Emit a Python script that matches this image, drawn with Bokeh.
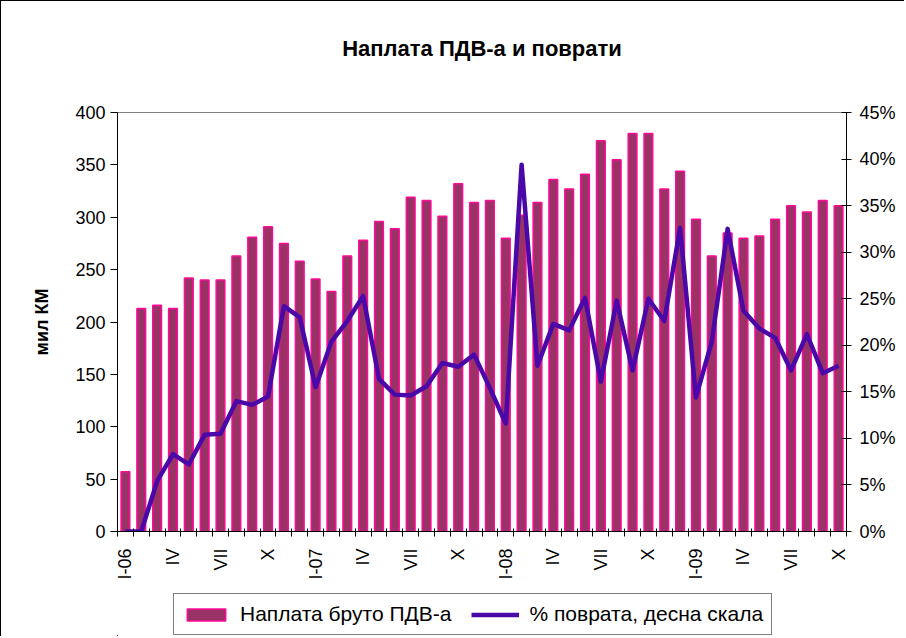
import math
from bokeh.plotting import figure
from bokeh.layouts import column
from bokeh.models import (Range1d, LinearAxis, FixedTicker, PrintfTickFormatter,
                          Legend, LegendItem, ColumnDataSource)
from bokeh.embed import file_html
from bokeh.resources import INLINE

# ---- data ----
months = list(range(46))  # I-06 .. X-09
vat_gross = [57, 213, 216, 213, 242, 240, 240, 263, 281, 291, 275, 258,
             241, 229, 263, 278, 296, 289, 319, 316, 301, 332, 314, 316,
             280, 302, 314, 336, 327, 341, 373, 355, 380, 380, 327, 344,
             298, 263, 285, 280, 282, 298, 311, 305, 316, 311]
refund_pct = [0, 0, 5.4, 8.3, 7.2, 10.4, 10.5, 14.0, 13.6, 14.5, 24.2, 23.0,
              15.5, 20.4, 22.6, 25.3, 16.4, 14.7, 14.6, 15.6, 18.1, 17.7, 19.0, 15.4,
              11.6, 39.4, 17.8, 22.3, 21.6, 25.1, 16.1, 24.8, 17.3, 25.0, 22.6, 32.6,
              14.4, 20.4, 32.5, 23.7, 21.8, 20.8, 17.3, 21.2, 17.0, 17.8]
tick_positions = [0, 3, 6, 9, 12, 15, 18, 21, 24, 27, 30, 33, 36, 39, 42, 45]
tick_labels = ["I-06", "IV", "VII", "X", "I-07", "IV", "VII", "X",
               "I-08", "IV", "VII", "X", "I-09", "IV", "VII", "X"]
left_ticks = [0, 50, 100, 150, 200, 250, 300, 350, 400]
right_ticks = [0, 5, 10, 15, 20, 25, 30, 35, 40, 45]

title_text = "Наплата ПДВ-а и поврати"
y_label_text = "мил КМ"
bar_name = "Наплата бруто ПДВ-а"
line_name = "% поврата, десна скала"

FONT = "Liberation Sans"
BAR_FILL = "#993366"
BAR_LINE = "#ff0a96"
LINE_COLOR = "#4a08a8"

src = ColumnDataSource(dict(x=months, top=vat_gross, pct=refund_pct))

p = figure(width=904, height=588, output_backend="svg", toolbar_location=None,
           x_range=Range1d(-0.5, 45.5), y_range=Range1d(0, 400),
           min_border_left=116, min_border_right=59, min_border_top=111,
           min_border_bottom=58)
p.styles = {"border-left": "1px solid black", "border-top": "1px solid black"}
p.xgrid.visible = False
p.ygrid.visible = False
p.outline_line_color = "#808080"
p.background_fill_color = "white"
p.border_fill_color = "white"

p.extra_y_ranges = {"pct": Range1d(0, 45)}

p.vbar(x="x", top="top", width=0.55, source=src,
       fill_color=BAR_FILL, line_color=BAR_LINE, line_width=1.5)
p.line(x="x", y="pct", source=src, y_range_name="pct",
       line_color=LINE_COLOR, line_width=4.5, line_join="round")

# bottom axis
xa = p.below[0]
xa.ticker = FixedTicker(ticks=tick_positions,
                        minor_ticks=[m - 0.5 for m in months] + [45.5])
xa.major_label_overrides = {k: v for k, v in zip(tick_positions, tick_labels)}
xa.major_tick_line_color = None
xa.major_tick_out = 0
xa.major_tick_in = 0
xa.minor_tick_in = 3
xa.minor_tick_out = 5
xa.minor_tick_line_color = "black"
xa.axis_line_color = "black"
xa.major_label_orientation = math.pi / 2
xa.major_label_text_font = FONT
xa.major_label_text_font_size = "18px"
xa.major_label_text_color = "black"
xa.major_label_standoff = 12

# left axis
ya = p.left[0]
ya.ticker = FixedTicker(ticks=left_ticks)
ya.major_tick_out = 7
ya.major_tick_in = 0
ya.minor_tick_line_color = None
ya.axis_line_color = "black"
ya.major_tick_line_color = "black"
ya.major_label_text_font = FONT
ya.major_label_text_font_size = "18px"
ya.major_label_text_color = "black"
ya.major_label_standoff = 5
ya.axis_label = y_label_text
ya.axis_label_text_font = FONT
ya.axis_label_text_font_size = "18px"
ya.axis_label_text_font_style = "bold"
ya.axis_label_text_color = "black"
ya.axis_label_standoff = 20

# right axis
ra = LinearAxis(y_range_name="pct", ticker=FixedTicker(ticks=right_ticks),
                formatter=PrintfTickFormatter(format="%d%%"))
ra.major_tick_out = 5
ra.major_tick_in = 5
ra.minor_tick_line_color = None
ra.axis_line_color = "black"
ra.major_tick_line_color = "black"
ra.major_label_text_font = FONT
ra.major_label_text_font_size = "18px"
ra.major_label_text_color = "black"
ra.major_label_standoff = 8
p.add_layout(ra, "right")

# title, drawn as the label of a bare axis above the frame
ta = LinearAxis(ticker=FixedTicker(ticks=[]), axis_label=title_text)
ta.axis_line_color = None
ta.major_tick_line_color = None
ta.minor_tick_line_color = None
ta.major_tick_out = 0
ta.major_tick_in = 0
ta.major_label_text_font_size = "0px"
ta.axis_label_text_font = FONT
ta.axis_label_text_font_size = "22px"
ta.axis_label_text_font_style = "bold"
ta.axis_label_text_color = "black"
ta.axis_label_standoff = 52
p.add_layout(ta, "above")

# legend strip below the chart (its frame is aligned with the chart's frame);
# its ranges sit far away from the data so that only the legend shows
lp = figure(width=904, height=48, output_backend="svg", toolbar_location=None,
            x_range=Range1d(60, 61), y_range=Range1d(1000, 1001),
            x_axis_location=None, y_axis_location=None,
            min_border_left=116, min_border_right=59, min_border_top=0,
            min_border_bottom=0)
lp.styles = {"border-left": "1px solid black"}
lp.xgrid.visible = False
lp.ygrid.visible = False
lp.outline_line_color = None
lp.background_fill_color = "white"
lp.border_fill_color = "white"
lbar = lp.vbar(x="x", top="top", width=0.55, source=src,
               fill_color=BAR_FILL, line_color=BAR_LINE, line_width=1.5)
lline = lp.line(x="x", y="pct", source=src, line_color=LINE_COLOR, line_width=4.5)

legend = Legend(items=[LegendItem(label=bar_name, renderers=[lbar]),
                       LegendItem(label=line_name, renderers=[lline])],
                orientation="horizontal", location=(56, 1))
legend.border_line_color = "black"
legend.border_line_width = 1
legend.background_fill_color = "white"
legend.background_fill_alpha = 1
legend.label_text_font = FONT
legend.label_text_font_size = "21px"
legend.label_text_color = "black"
legend.glyph_width = 48
legend.glyph_height = 15
legend.label_standoff = 10
legend.spacing = 20
legend.padding = 8
legend.margin = 0
lp.add_layout(legend)

layout = column(p, lp, spacing=0)
open("out.html", "w").write(file_html(layout, INLINE))
